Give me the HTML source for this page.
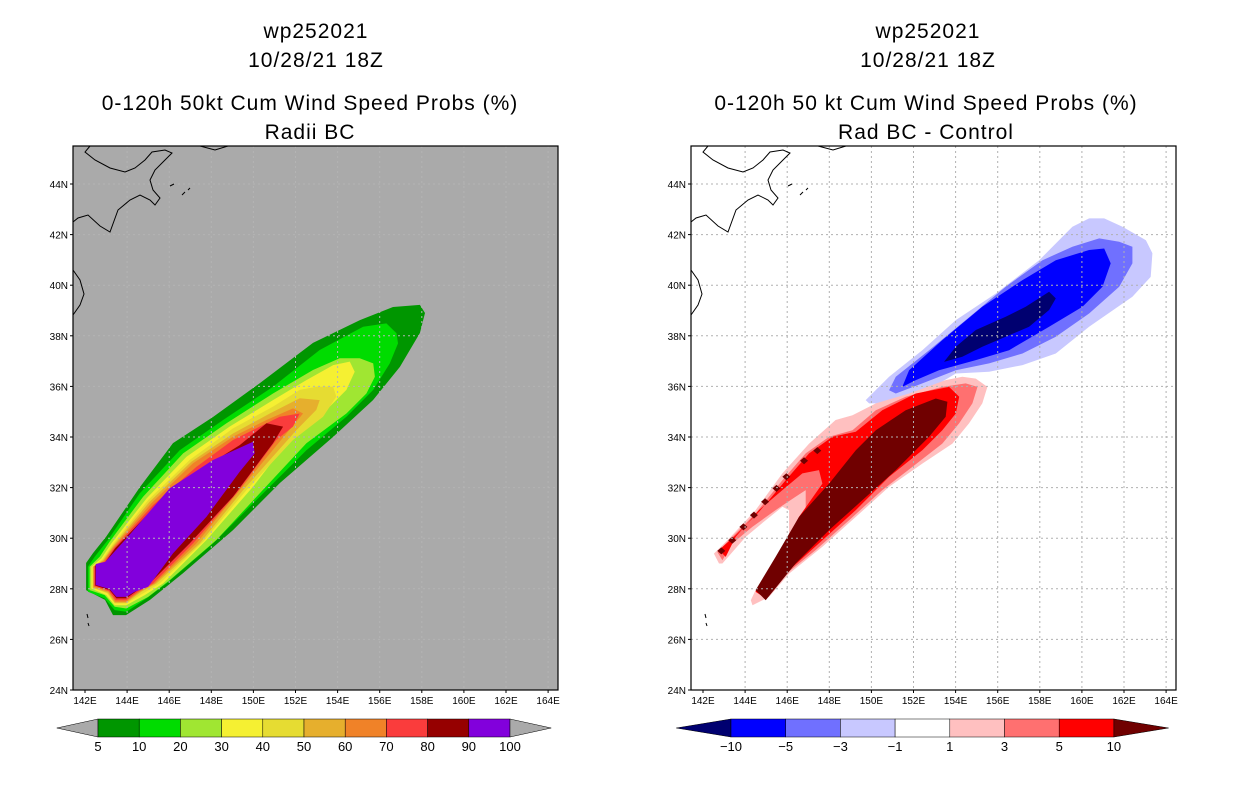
<!DOCTYPE html>
<html><head><meta charset="utf-8"><style>
body{margin:0;background:#fff;width:1236px;height:800px;overflow:hidden}
svg text{font-family:"Liberation Sans",sans-serif}
</style></head><body>
<svg id="s" width="1236" height="800" viewBox="0 0 1236 800" xmlns="http://www.w3.org/2000/svg">
<g id="titles" font-size="21" text-anchor="middle" fill="#000" letter-spacing="1">
<text x="316" y="38">wp252021</text>
<text x="316" y="67">10/28/21 18Z</text>
<text x="310" y="110">0-120h 50kt Cum Wind Speed Probs (%)</text>
<text x="310" y="139">Radii BC</text>
<text x="928" y="38">wp252021</text>
<text x="928" y="67">10/28/21 18Z</text>
<text x="926" y="110">0-120h 50 kt Cum Wind Speed Probs (%)</text>
<text x="926" y="139">Rad BC - Control</text>
</g>
</svg>
<script>
// ---- data (lon, lat pairs) ----
const lonTicks=[142,144,146,148,150,152,154,156,158,160,162,164];
const latTicks=[24,26,28,30,32,34,36,38,40,42,44];
const leftLevels=[5,10,20,30,40,50,60,70,80,90,100];
const leftColors=["#009600","#00dc00","#a0e632","#f5f032","#e6dc32","#e6af2d","#f08228","#fa3c3c","#960000","#8200dc"];
const rightLevels=[-10,-5,-3,-1,1,3,5,10];
const L5=[[142.05,29.02],[142.38,29.41],[143.0,30.05],[144.61,32.02],[146.18,33.76],[148.08,34.79],[150.31,36.13],[152.83,37.72],[155.06,38.62],[156.63,39.14],[157.91,39.22],[158.15,38.9],[157.91,38.11],[156.96,36.77],[155.68,35.46],[153.78,34.0],[151.26,32.18],[149.03,30.32],[146.66,28.62],[145.09,27.56],[143.95,26.96],[143.33,26.96],[142.95,27.56],[142.05,27.95]];
const L10=[[142.14,28.87],[142.46,29.27],[143.09,29.93],[144.6,31.77],[146.5,33.48],[148.56,34.67],[150.93,35.99],[153.15,37.44],[155.21,38.36],[156.32,38.49],[156.8,38.1],[156.87,37.7],[156.48,36.91],[155.69,35.86],[154.42,34.8],[152.52,33.48],[150.3,31.64],[148.08,29.79],[145.87,28.21],[144.92,27.62],[143.96,27.09],[143.41,27.16],[142.93,27.62],[142.14,27.88]];
const L20=[[142.22,28.87],[142.7,29.27],[143.17,29.86],[144.76,31.64],[146.66,33.35],[148.72,34.54],[150.93,35.72],[152.83,36.65],[154.1,37.11],[155.05,37.11],[155.69,36.91],[155.77,36.38],[155.37,35.72],[154.42,34.93],[152.52,33.75],[150.3,31.77],[148.24,29.93],[146.02,28.34],[145.0,27.68],[143.96,27.22],[143.41,27.29],[142.93,27.75],[142.22,27.95]];
const L30=[[142.3,28.87],[142.78,29.2],[143.25,29.79],[144.92,31.57],[146.82,33.22],[148.87,34.41],[150.93,35.46],[152.52,36.25],[153.79,36.84],[154.58,36.98],[154.81,36.58],[154.42,35.86],[153.15,34.8],[151.57,33.75],[149.98,32.03],[147.77,29.93],[145.71,28.21],[144.84,27.75],[143.96,27.35],[143.41,27.35],[143.01,27.75],[142.3,28.01]];
const L40=[[142.35,28.87],[142.82,29.16],[143.3,29.73],[145.0,31.51],[146.97,33.09],[149.03,34.34],[150.93,35.2],[152.2,35.86],[152.99,35.99],[153.79,35.99],[153.94,35.59],[153.31,34.8],[151.88,33.88],[149.67,31.9],[147.61,29.86],[145.55,28.21],[144.76,27.82],[143.96,27.42],[143.41,27.42],[143.06,27.82],[142.35,28.04]];
const L50=[[142.38,28.87],[142.86,29.13],[143.33,29.69],[145.07,31.44],[147.05,33.02],[149.03,34.14],[150.78,34.93],[152.2,35.53],[153.15,35.46],[152.99,35.07],[152.04,34.27],[149.51,31.9],[147.45,29.79],[145.39,28.21],[144.68,27.88],[143.96,27.45],[143.41,27.45],[143.09,27.84],[142.38,28.04]];
const L60=[[142.41,28.87],[142.89,29.11],[143.36,29.66],[145.15,31.38],[147.13,32.96],[149.03,34.01],[150.62,34.67],[151.88,35.13],[152.36,34.93],[151.57,34.14],[149.35,31.9],[147.29,29.79],[145.31,28.21],[144.6,27.88],[143.96,27.49],[143.44,27.49],[143.12,27.88],[142.41,28.08]];
const L70=[[142.44,28.9],[142.92,29.07],[143.39,29.62],[145.23,31.31],[147.29,32.82],[149.03,33.88],[150.3,34.41],[151.25,34.8],[152.2,34.93],[151.88,34.41],[151.09,33.88],[149.19,31.77],[147.13,29.79],[145.23,28.21],[144.52,27.88],[143.96,27.55],[143.46,27.55],[143.14,27.91],[142.44,28.11]];
const L80=[[142.48,28.92],[142.95,29.04],[143.43,29.6],[145.31,31.24],[147.45,32.69],[149.35,33.68],[150.62,34.54],[151.41,34.41],[150.93,33.75],[149.03,31.64],[146.97,29.79],[145.07,28.21],[144.47,27.92],[143.96,27.62],[143.49,27.62],[143.17,27.95],[142.48,28.13]];
const L90=[[142.51,28.98],[142.97,29.07],[143.96,29.99],[146.02,31.97],[148.08,33.09],[149.98,33.81],[150.06,33.35],[149.35,32.63],[147.77,30.85],[146.18,29.4],[145.0,28.08],[144.36,27.88],[143.96,27.68],[143.49,27.68],[143.17,27.99],[142.51,28.15]];
const B1=[[149.73,35.46],[150.84,36.38],[152.42,37.43],[154.01,38.62],[155.91,39.67],[157.97,40.99],[159.55,42.31],[160.34,42.64],[161.06,42.64],[161.93,42.31],[163.04,41.78],[163.35,41.26],[163.27,40.33],[162.4,39.54],[160.34,38.36],[158.76,37.3],[157.18,36.84],[155.59,36.58],[154.01,36.51],[152.42,35.72],[150.84,35.33],[149.89,35.33]];
const B3=[[150.84,35.85],[151.16,36.38],[152.74,37.43],[154.48,38.62],[156.38,39.94],[158.13,40.99],[159.55,41.52],[160.82,41.85],[161.77,41.72],[162.4,41.52],[162.4,40.86],[161.77,39.94],[160.34,38.88],[158.76,37.96],[157.18,37.3],[155.59,36.91],[154.01,36.64],[152.42,36.12],[151.16,35.72]];
const B5=[[151.47,35.98],[151.79,36.64],[153.37,37.83],[155.27,39.15],[157.18,40.2],[158.76,40.99],[160.34,41.39],[161.06,41.45],[161.37,40.86],[160.98,39.94],[160.03,39.15],[158.44,38.36],[156.54,37.43],[154.96,37.04],[153.21,36.64],[152.11,36.25]];
const B10=[[153.45,36.97],[154.01,37.57],[154.96,38.23],[156.38,38.75],[157.33,39.15],[158.44,39.74],[158.76,39.48],[158.44,39.02],[157.49,38.36],[156.38,37.96],[155.27,37.57],[154.32,37.17]];
const R1=[[142.52,29.39],[143.24,29.99],[144.5,31.11],[145.77,32.56],[147.04,33.74],[148.3,34.67],[149.1,34.86],[150.21,35.33],[151.79,35.72],[153.53,36.25],[154.32,36.38],[154.96,36.31],[155.51,35.98],[155.27,35.33],[154.64,34.54],[153.85,33.74],[152.42,32.95],[150.84,32.03],[149.26,30.84],[147.67,29.66],[146.09,28.6],[145.14,27.68],[144.35,27.35],[144.27,27.55],[144.5,27.95],[145.45,29.0],[146.09,30.05],[146.09,31.11],[145.77,31.24],[144.98,30.71],[144.03,30.05],[142.92,29.0],[142.76,29.0]];
const R3=[[142.68,29.46],[143.39,30.05],[144.5,30.98],[145.77,32.29],[146.88,33.35],[147.99,34.01],[149.1,34.27],[150.21,35.06],[151.63,35.59],[153.37,35.98],[154.48,36.12],[155.04,35.98],[154.8,35.33],[154.17,34.54],[153.37,33.74],[151.95,32.82],[150.52,31.9],[148.94,30.71],[147.35,29.53],[145.77,28.47],[144.98,27.68],[144.5,27.88],[145.3,28.74],[146.09,29.79],[146.88,31.11],[146.88,31.9],[146.4,31.64],[145.45,31.11],[144.35,30.45],[143.39,29.79],[142.92,29.13]];
const R5=[[142.76,29.53],[143.55,30.12],[144.66,31.04],[145.93,32.29],[147.04,33.35],[148.15,34.01],[149.26,34.21],[150.52,35.06],[152.11,35.72],[153.69,35.98],[154.17,35.59],[154.01,34.93],[153.37,34.27],[152.42,33.48],[150.84,32.43],[149.26,31.11],[147.67,29.92],[146.09,28.74],[144.98,27.62],[144.5,27.88],[145.61,29.39],[146.56,30.84],[147.67,32.16],[147.51,32.69],[146.72,32.56],[145.77,31.9],[144.66,31.11],[143.55,30.05],[143.08,29.26]];
const R10=[[144.5,27.95],[145.45,29.26],[146.56,30.84],[147.99,32.16],[149.26,33.48],[150.21,34.27],[151.63,35.06],[153.06,35.52],[153.61,35.39],[153.53,34.8],[152.74,34.01],[151.16,32.69],[149.57,31.5],[147.99,30.32],[146.4,29.0],[144.98,27.55]];
const dotLons=[142.87,143.39,143.92,144.42,144.95,145.49,145.96,146.8,147.43];
const dotLats=[29.5,29.92,30.45,30.91,31.44,31.97,32.43,33.06,33.46];

// ---- rendering ----
const NS="http://www.w3.org/2000/svg";
const svg=document.getElementById('s');
function mk(tag,attrs,parent){const e=document.createElementNS(NS,tag);for(const k in attrs)e.setAttribute(k,attrs[k]);(parent||svg).appendChild(e);return e;}
const PX=21.05, PY=25.3;
function panel(x0,name,bg){
  const g=mk('g',{});
  
  
  const X=lon=>x0+12+(lon-142)*PX, Y=lat=>690-(lat-24)*PY;
  const bgr=mk('rect',{x:x0,y:146,width:485,height:544,fill:bg},g);
  
  
  return {g,X,Y,x0};
}
function poly(p,pts,fill,nm){
  const e=mk('polygon',{points:pts.map(q=>p.X(q[0]).toFixed(1)+','+p.Y(q[1]).toFixed(1)).join(' '),fill:fill},p.g);
  
  
}
function coast(p){
  const o=p.x0-73;
  const paths=["M90,146 L85,152 L95,160 L110,168 L125,172 L135,168 L145,160 L152,152 L165,150 L172,153 L165,160 L155,170 L150,180 L153,190 L160,198 L155,205 L150,200 L140,195 L130,200 L118,210 L110,232 L100,226 L88,215 L78,218 L73,222",
   "M73,270 L80,280 L84,294 L80,305 L73,315","M170,186 l4,-2 M182,195 l3,-3 M188,190 l2,-2 M87,614 l1,4 M88,623 l1,3","M200,146 L215,150 L228,146"];
  paths.forEach(d=>{const e=mk('path',{d:d,fill:'none',stroke:'#000','stroke-width':1,transform:'translate('+o+',0)'},p.g);
    
    });
}
function grid(p,col){
  lonTicks.forEach(l=>{if(l>142.1&&l<164.1){const e=mk('line',{x1:p.X(l),x2:p.X(l),y1:146,y2:690,stroke:col,'stroke-dasharray':'2,3'},p.g);
    
    }});
  latTicks.forEach(l=>{if(l>24){const e=mk('line',{x1:p.x0,x2:p.x0+485,y1:p.Y(l),y2:p.Y(l),stroke:col,'stroke-dasharray':'2,3'},p.g);
    
    }});
}
function axes(p){
  const f=mk('rect',{x:p.x0,y:146,width:485,height:544,fill:'none',stroke:'#000','stroke-width':1.2},p.g);
  
  
  latTicks.forEach(l=>{const t=mk('text',{x:p.x0-5,y:p.Y(l)+4,'font-size':10,'text-anchor':'end'},p.g);t.textContent=l+'N';
    
    
    mk('line',{x1:p.x0-3,x2:p.x0,y1:p.Y(l),y2:p.Y(l),stroke:'#000'},p.g);});
  lonTicks.forEach(l=>{const t=mk('text',{x:p.X(l),y:704,'font-size':10,'text-anchor':'middle'},p.g);t.textContent=l+'E';
    
    
    mk('line',{x1:p.X(l),x2:p.X(l),y1:690,y2:693,stroke:'#000'},p.g);});
}
// left
const P1=panel(73,'left-map','#aaaaaa');
const leftPolys=[L5,L10,L20,L30,L40,L50,L60,L70,L80,L90];
leftPolys.forEach((pts,i)=>poly(P1,pts,leftColors[i],'prob-contour-'+leftLevels[i]));
grid(P1,'#b4b4b4');coast(P1);axes(P1);
// right
const P2=panel(691,'right-map','#ffffff');
[[B1,'#c8c8ff','diff-below-1'],[B3,'#7070ff','diff-below-3'],[B5,'#0000ff','diff-below-5'],[B10,'#000070','diff-below-10'],
 [R1,'#ffc0c0','diff-above-1'],[R3,'#ff7070','diff-above-3'],[R5,'#ff0000','diff-above-5'],[R10,'#700000','diff-above-10']]
 .forEach(a=>poly(P2,a[0],a[1],a[2]));
dotLons.forEach((lo,i)=>{const x=P2.X(lo),y=P2.Y(dotLats[i]);
  const e=mk('polygon',{points:`${x-4},${y} ${x},${y-3.5} ${x+4},${y} ${x},${y+3.5}`,fill:'#700000'},P2.g);
  
  });
grid(P2,'#b0b0b0');coast(P2);axes(P2);

// colorbars
function cbar(x0,bw,n,colors,lt,rt,labels,nm){
  const g=mk('g',{});
  
  
  const y0=719,h=18;
  const l=mk('polygon',{points:`${x0-bw},${y0+h/2} ${x0},${y0} ${x0},${y0+h}`,fill:lt,stroke:'#000','stroke-width':0.5},g);
  
  for(let i=0;i<n;i++){const r=mk('rect',{x:x0+i*bw,y:y0,width:bw,height:h,fill:colors[i],stroke:'#000','stroke-width':0.5},g);
    }
  const xe=x0+n*bw;
  const rr=mk('polygon',{points:`${xe},${y0} ${xe+bw},${y0+h/2} ${xe},${y0+h}`,fill:rt,stroke:'#000','stroke-width':0.5},g);
  
  labels.forEach((lb,i)=>{const t=mk('text',{x:x0+i*bw,y:751,'font-size':13,'text-anchor':'middle'},g);t.textContent=lb;
    });
}
cbar(98,41.2,10,leftColors,'#aaaaaa','#aaaaaa',leftLevels,'left-colorbar');
cbar(731,54.7,7,['#0000ff','#7070ff','#c8c8ff','#ffffff','#ffc0c0','#ff7070','#ff0000'],'#000070','#700000',rightLevels.map(v=>v<0?'\u2212'+(-v):''+v),'right-colorbar');
svg.appendChild(document.getElementById('titles'));
</script>
</body></html>
